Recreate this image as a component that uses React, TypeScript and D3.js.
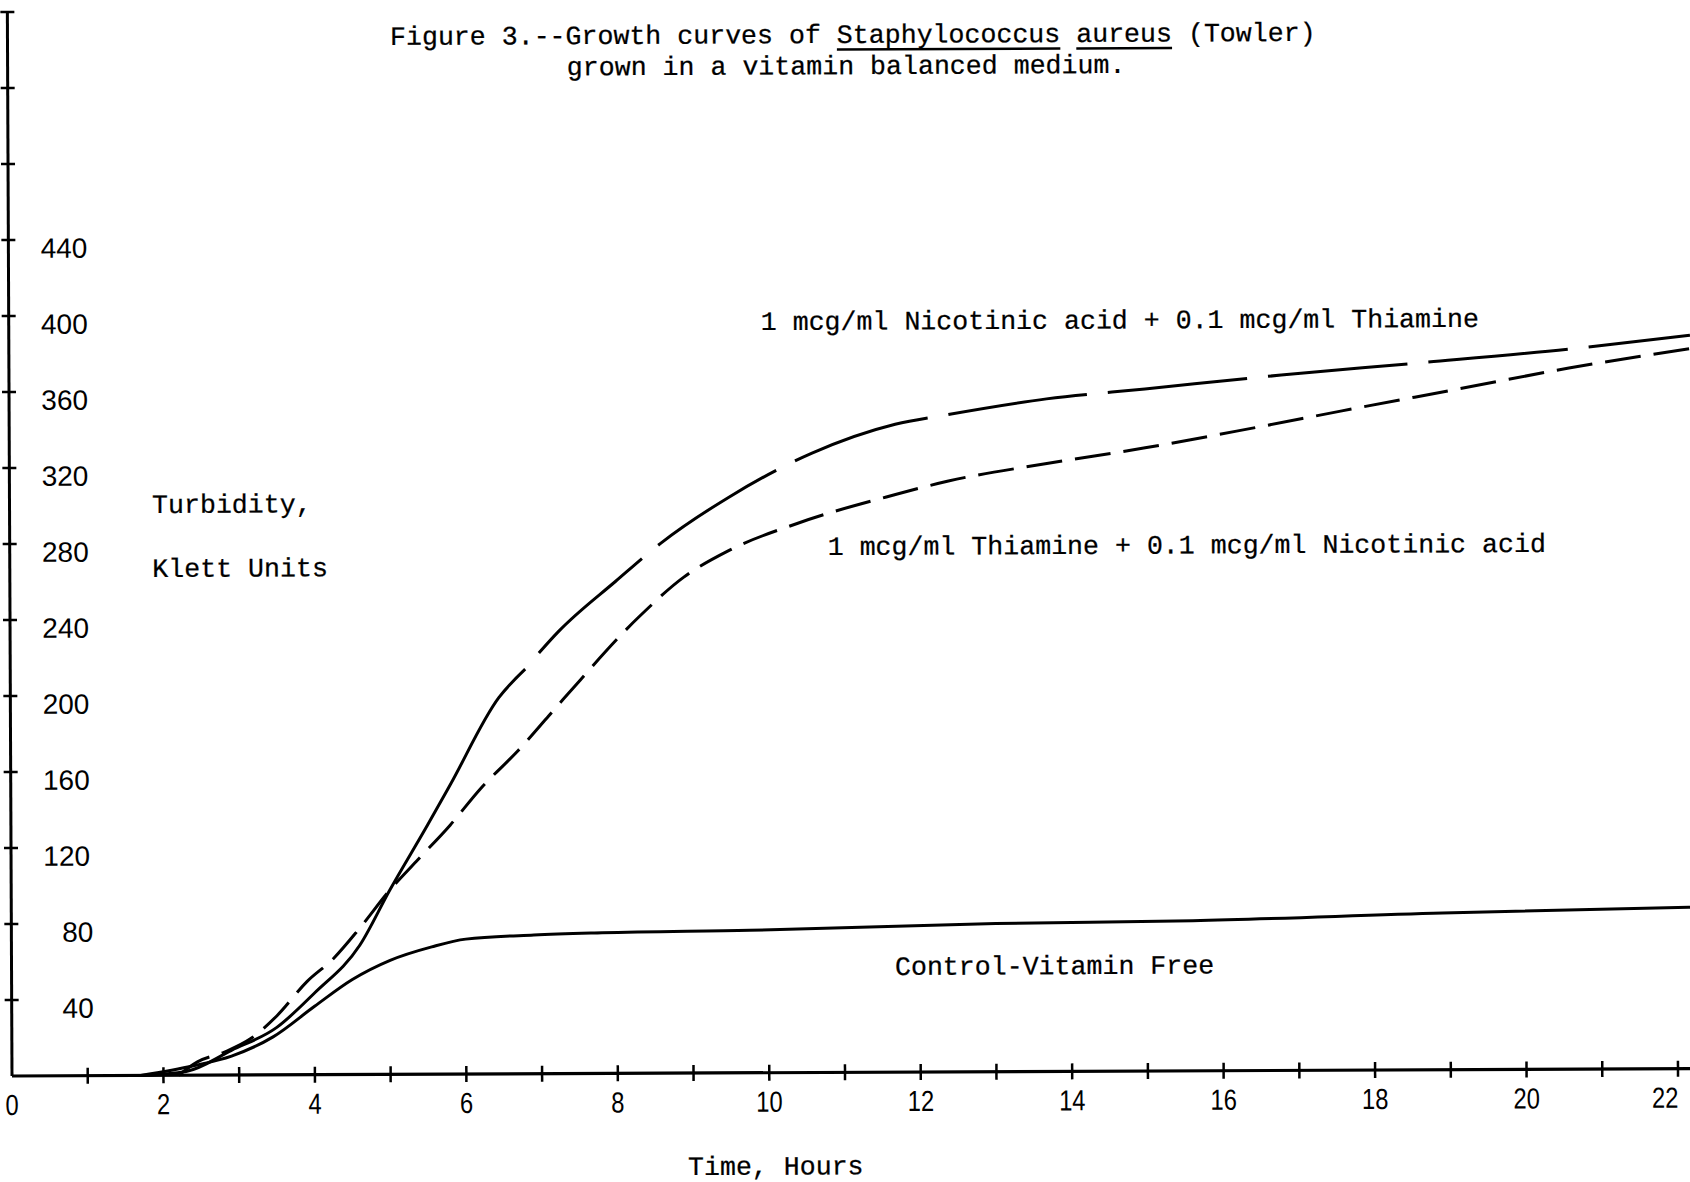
import React from 'react';
import * as d3 from 'd3';

// Figure 3 - growth curves, turbidity (Klett units) vs time (hours)
const nicotinicHours = [1.7, 2.3, 2.9, 3.5, 4.0, 4.6, 5.0, 5.5, 5.8, 6.45, 6.8, 7.25, 8.0, 8.6, 9.5, 10.6, 11.7, 12.4, 13.7, 15.0, 16.8, 18.6, 20.6, 22.2];
const nicotinicTurbidity = [0, 2, 13, 25, 43, 68, 97, 131, 152, 198, 213, 233, 259, 279, 303, 326, 341, 346, 354, 359, 366, 372, 379, 386];

const thiamineHours = [2.2, 2.45, 2.8, 3.15, 3.5, 3.9, 4.25, 4.6, 5.0, 5.35, 5.8, 6.2, 6.7, 7.3, 8.3, 8.9, 9.5, 10.4, 11.7, 12.4, 13.7, 15.0, 16.4, 17.6, 19.1, 20.6, 22.2];
const thiamineTurbidity = [0, 7, 12, 19, 31, 49, 61, 77, 97, 112, 131, 150, 170, 197, 240, 261, 275, 289, 304, 311, 320, 328, 338, 347, 358, 369, 379];

const controlHours = [1.7, 2.4, 2.9, 3.45, 4.0, 4.5, 5.0, 5.55, 6.0, 6.9, 7.8, 9.75, 13.0, 15.6, 18.9, 22.2];
const controlTurbidity = [0, 5, 10, 20, 36, 50, 60, 67, 71, 73, 74, 75, 78, 79, 82.5, 85];

const yTicks = [40, 80, 120, 160, 200, 240, 280, 320, 360, 400, 440, 480, 520, 560];
const yTickLabels = ['40', '80', '120', '160', '200', '240', '280', '320', '360', '400', '440'];
const xTicks = [1, 2, 3, 4, 5, 6, 7, 8, 9, 10, 11, 12, 13, 14, 15, 16, 17, 18, 19, 20, 21, 22];
const xTickLabels = [0, 2, 4, 6, 8, 10, 12, 14, 16, 18, 20, 22];

const titleLine1 = 'Figure 3.--Growth curves of Staphylococcus aureus (Towler)';
const titleLine2 = 'grown in a vitamin balanced medium.';
const underlined = ['Staphylococcus', 'aureus'];
const yTitle = ['Turbidity,', 'Klett Units'];
const xTitle = 'Time, Hours';
const nicotinicLabel = '1 mcg/ml Nicotinic acid + 0.1 mcg/ml Thiamine';
const thiamineLabel = '1 mcg/ml Thiamine + 0.1 mcg/ml Nicotinic acid';
const controlLabel = 'Control-Vitamin Free';

const W = 1690;
const H = 1182;
const mono = '"Liberation Mono", "Courier New", monospace';
const sans = '"Liberation Sans", Arial, sans-serif';
const fs = 26.6;
const cw = fs * 0.6;

export default function App() {
  const x = d3.scaleLinear().domain([0, 22]).range([12, 1678]);
  const y = d3.scaleLinear().domain([0, 560]).range([1076, 12]);

  const line = d3.line<[number, number]>()
    .x(d => x(d[0]))
    .y(d => y(d[1]))
    .curve(d3.curveMonotoneX);

  const zip = (hs: number[], vs: number[]) => hs.map((h, i) => [h, vs[i]] as [number, number]);
  const nic = zip(nicotinicHours, nicotinicTurbidity);
  const nicSolid = nic.filter(d => d[0] <= 6.8);
  const nicDashed = nic.filter(d => d[0] >= 6.8);
  const thi = zip(thiamineHours, thiamineTurbidity);
  const ctl = zip(controlHours, controlTurbidity);

  const t1x = 394.5;
  const t1y = 46.6;
  const underlines = underlined.map(w => {
    const idx = titleLine1.indexOf(w);
    return { x1: t1x + idx * cw, x2: t1x + (idx + w.length) * cw };
  });

  const typed = { fontFamily: mono, fontSize: fs, fill: '#000', stroke: '#000', strokeWidth: 0.25 };

  return (
    <svg width={W} height={H} style={{ position: 'absolute', left: 0, top: 0, display: 'block', background: '#fff' }}>
      <rect width={W} height={H} fill="#fff" />
      <g transform="rotate(-0.25, 12, 1076)">
        {/* title */}
        <text x={t1x} y={t1y} {...typed}>{titleLine1}</text>
        {underlines.map((u, i) => (
          <line key={i} x1={u.x1} x2={u.x2} y1={t1y + 6.5} y2={t1y + 6.5} stroke="#000" strokeWidth={2.5} />
        ))}
        <text x={850.5} y={77.8} textAnchor="middle" {...typed}>{titleLine2}</text>

        {/* axes */}
        <line x1={x(0)} x2={x(0)} y1={y(0)} y2={y(560)} stroke="#000" strokeWidth={3} />
        <line x1={x(0)} x2={1695} y1={y(0)} y2={y(0)} stroke="#000" strokeWidth={3.2} />
        {yTicks.map(v => (
          <line key={'yt' + v} x1={x(0) - 7} x2={x(0) + 7} y1={y(v)} y2={y(v)} stroke="#000" strokeWidth={2.5} />
        ))}
        {xTicks.map(v => (
          <line key={'xt' + v} x1={x(v)} x2={x(v)} y1={y(0) - 8} y2={y(0) + 8} stroke="#000" strokeWidth={2.5} />
        ))}
        {yTickLabels.map(s => (
          <text key={'yl' + s} x={s.length < 3 ? 94 : 91} y={y(+s) + 18} textAnchor="end" fontFamily={sans} fontSize={28} fill="#000">{s}</text>
        ))}
        {xTickLabels.map(v => (
          <text key={'xl' + v} transform={`translate(${Math.min(x(v), W - 25)},1115) scale(0.82,1)`} textAnchor="middle" fontFamily={sans} fontSize={29} fill="#000">{v}</text>
        ))}

        {/* axis titles */}
        <text x={154.5} y={513.6} {...typed}>{yTitle[0]}</text>
        <text x={154.5} y={577.6} {...typed}>{yTitle[1]}</text>
        <text x={687.6} y={1178} {...typed}>{xTitle}</text>

        {/* curves */}
        <path d={line(nicSolid) || ''} fill="none" stroke="#000" strokeWidth={3} />
        <path d={line(nicDashed) || ''} fill="none" stroke="#000" strokeWidth={3} strokeDasharray="140 21" strokeDashoffset={140} />
        <path d={line(thi) || ''} fill="none" stroke="#000" strokeWidth={3} strokeDasharray="36 13" />
        <path d={line(ctl) || ''} fill="none" stroke="#000" strokeWidth={3} />

        {/* curve labels */}
        <text x={764} y={333.3} {...typed}>{nicotinicLabel}</text>
        <text x={830} y={558.6} {...typed}>{thiamineLabel}</text>
        <text x={895.4} y={978.8} {...typed}>{controlLabel}</text>
      </g>
    </svg>
  );
}
